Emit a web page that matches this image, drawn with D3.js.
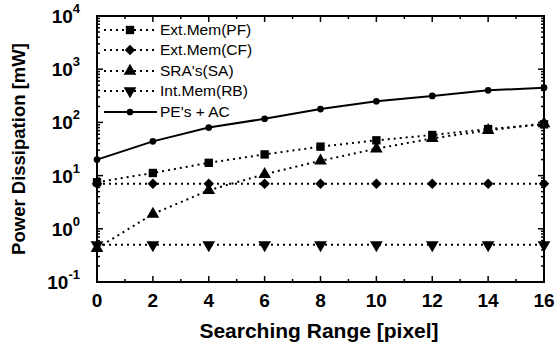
<!DOCTYPE html>
<html>
<head>
<meta charset="utf-8">
<script src="https://cdn.jsdelivr.net/npm/d3@7"></script>
<style>
  body { margin: 0; background: #fff; }
  text { font-family: "Liberation Sans", Arial, sans-serif; }
</style>
</head>
<body>
<script>
'use strict';

// searching range values on the x axis
const range = [0, 2, 4, 6, 8, 10, 12, 14, 16];

// series values (mW)
const extMemPF = [7.5, 11.2, 17.4, 25, 35, 46, 58, 75, 92];
const extMemCF = [7, 7, 7, 7, 7, 7, 7, 7, 7];
const sraSA = [0.43, 1.9, 5.3, 10.6, 19, 32, 50, 71, 95];
const intMemRB = [0.5, 0.5, 0.5, 0.5, 0.5, 0.5, 0.5, 0.5, 0.5];
const peAC = [20, 44, 80, 117, 178, 250, 315, 400, 450];

const seriesNames = ["Ext.Mem(PF)", "Ext.Mem(CF)", "SRA's(SA)", "Int.Mem(RB)", "PE's + AC"];
const xTicks = [0, 2, 4, 6, 8, 10, 12, 14, 16];
const yTicks = [-1, 0, 1, 2, 3, 4]; // exponents of 10

const m = { width: 558, height: 343, left: 97, right: 544, top: 16, bottom: 282 };

const svg = d3.select('body')
  .append('svg')
  .attr('width', m.width)
  .attr('height', m.height);

const xScale = d3.scaleLinear().domain([0, 16]).range([m.left, m.right]);
const yScale = d3.scaleLog().domain([0.1, 10000]).range([m.bottom, m.top]);

// frame
svg.append('rect')
  .attr('x', m.left).attr('y', m.top)
  .attr('width', m.right - m.left).attr('height', m.bottom - m.top)
  .attr('fill', 'none').attr('stroke', '#000').attr('stroke-width', 2);

// x ticks (inward, bottom and top), minor every 1
const xMinor = d3.range(0, 17, 1);
xMinor.forEach((v) => {
  const len = v % 2 === 0 ? 6 : 3;
  svg.append('line').attr('x1', xScale(v)).attr('x2', xScale(v))
    .attr('y1', m.bottom).attr('y2', m.bottom - len)
    .attr('stroke', '#000').attr('stroke-width', 1.5);
  svg.append('line').attr('x1', xScale(v)).attr('x2', xScale(v))
    .attr('y1', m.top).attr('y2', m.top + len)
    .attr('stroke', '#000').attr('stroke-width', 1.5);
});

// y ticks (inward, left and right), log minor ticks
yTicks.forEach((e) => {
  for (let k = 1; k <= 9; k++) {
    if (e === 4 && k > 1) break;
    const y = yScale(k * Math.pow(10, e));
    const len = k === 1 ? 6 : 3;
    svg.append('line').attr('x1', m.left).attr('x2', m.left + len)
      .attr('y1', y).attr('y2', y).attr('stroke', '#000').attr('stroke-width', 1.5);
    svg.append('line').attr('x1', m.right).attr('x2', m.right - len)
      .attr('y1', y).attr('y2', y).attr('stroke', '#000').attr('stroke-width', 1.5);
  }
});

// x tick labels
svg.selectAll('.xlab')
  .data(xTicks)
  .enter()
  .append('text')
  .attr('x', (d) => xScale(d))
  .attr('y', 307)
  .attr('text-anchor', 'middle')
  .style('font-size', '19px')
  .style('font-weight', 'bold')
  .text((d) => d);

// y tick labels: 10 with superscript exponent
yTicks.forEach((e) => {
  const t = svg.append('text')
    .attr('x', 80)
    .attr('y', yScale(Math.pow(10, e)) + 7)
    .attr('text-anchor', 'end')
    .style('font-size', '19px')
    .style('font-weight', 'bold');
  t.append('tspan').text('10');
  t.append('tspan').attr('dy', -10).style('font-size', '13px').text(e);
});

// axis titles
svg.append('text')
  .attr('x', 319).attr('y', 338)
  .attr('text-anchor', 'middle')
  .style('font-size', '21px').style('font-weight', 'bold')
  .text('Searching Range [pixel]');

svg.append('text')
  .attr('transform', 'translate(25, 149)rotate(-90)')
  .attr('text-anchor', 'middle')
  .style('font-size', '18.5px').style('font-weight', 'bold')
  .text('Power Dissipation [mW]');

// marker shapes
const shapes = [
  d3.symbol().type(d3.symbolSquare).size(70),
  d3.symbol().type(d3.symbolSquare).size(55),
  d3.symbol().type(d3.symbolTriangle).size(70),
  d3.symbol().type(d3.symbolTriangle).size(70),
  d3.symbol().type(d3.symbolCircle).size(35)
];
const rotations = [0, 45, 0, 180, 0];
const dashes = ['2,4', '2,4', '2,4', '2,4', null];
const allSeries = [extMemPF, extMemCF, sraSA, intMemRB, peAC];

const line = d3.line()
  .x((d, i) => xScale(range[i]))
  .y((d) => yScale(d));

allSeries.forEach((vals, s) => {
  svg.append('path')
    .datum(vals)
    .attr('d', line)
    .attr('fill', 'none')
    .attr('stroke', '#000')
    .attr('stroke-width', 2)
    .attr('stroke-dasharray', dashes[s]);

  svg.selectAll('.pt' + s)
    .data(vals)
    .enter()
    .append('path')
    .attr('d', shapes[s])
    .attr('transform', (d, i) => 'translate(' + xScale(range[i]) + ',' + yScale(d) + ')rotate(' + rotations[s] + ')')
    .attr('fill', '#000');
});

// legend
const legY = [30, 50, 71, 91, 112];
seriesNames.forEach((name, s) => {
  const y = legY[s];
  svg.append('line')
    .attr('x1', 104).attr('x2', 157)
    .attr('y1', y).attr('y2', y)
    .attr('stroke', '#000').attr('stroke-width', 2)
    .attr('stroke-dasharray', dashes[s]);
  svg.append('path')
    .attr('d', shapes[s])
    .attr('transform', 'translate(130,' + y + ')rotate(' + rotations[s] + ')')
    .attr('fill', '#000');
  svg.append('text')
    .attr('x', 160).attr('y', y + 5)
    .style('font-size', '15.5px')
    .text(name);
});
</script>
</body>
</html>
